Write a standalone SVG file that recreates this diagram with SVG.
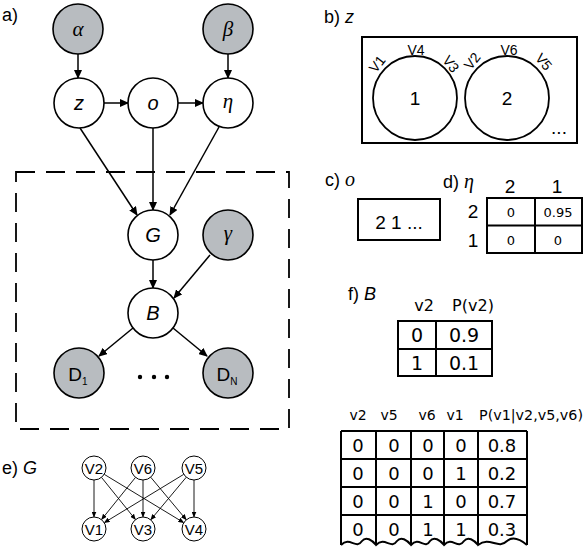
<svg xmlns="http://www.w3.org/2000/svg" width="584" height="550" viewBox="0 0 584 550">
<style>
.lbl{font-family:"Liberation Sans",Arial,sans-serif;font-size:18px;fill:#000}
.nd{fill:#fff;stroke:#000;stroke-width:1.6}
.obs{fill:#b8bcc0;stroke:#000;stroke-width:1.6}
.gk{font-family:"Liberation Serif","DejaVu Serif",serif;font-style:italic;font-size:21px;text-anchor:middle}
.it{font-family:"Liberation Sans",Arial,sans-serif;font-style:italic;font-size:20px;text-anchor:middle}
.rm{font-family:"Liberation Sans",Arial,sans-serif;font-size:19px;text-anchor:middle}
.edge{stroke:#000;stroke-width:1.5;fill:none;marker-end:url(#ah)}
.sedge{stroke:#000;stroke-width:0.9;fill:none;marker-end:url(#sah)}
.sn{fill:#fff;stroke:#000;stroke-width:1}
.sl{font-family:"Liberation Sans",Arial,sans-serif;font-size:15px;text-anchor:middle}
.box{fill:none;stroke:#000;stroke-width:2}
.tb{font-family:"DejaVu Sans",Verdana,sans-serif;text-anchor:middle}
</style>
<defs>
<marker id="ah" markerWidth="9" markerHeight="8" refX="8" refY="4" orient="auto" markerUnits="userSpaceOnUse">
<path d="M0,0 L9,4 L0,8 Z" fill="#000"/>
</marker>
<marker id="sah" markerWidth="6" markerHeight="5" refX="5.5" refY="2.5" orient="auto" markerUnits="userSpaceOnUse">
<path d="M0,0 L6,2.5 L0,5 Z" fill="#000"/>
</marker>
</defs>

<!-- panel labels -->
<text class="lbl" x="2" y="21">a)</text>
<text class="lbl" x="324" y="23">b) <tspan font-style="italic">z</tspan></text>
<text class="lbl" x="325" y="186">c) <tspan font-family="Liberation Serif,serif" font-style="italic" font-size="20">o</tspan></text>
<text class="lbl" x="443" y="188">d) <tspan font-family="Liberation Serif,serif" font-style="italic" font-size="20">η</tspan></text>
<text class="lbl" x="2" y="474" font-size="21">e) <tspan font-style="italic">G</tspan></text>
<text class="lbl" x="348" y="300">f) <tspan font-style="italic">B</tspan></text>

<!-- plate -->
<rect x="16" y="172" width="273" height="257" fill="none" stroke="#000" stroke-width="1.8" stroke-dasharray="19 11"/>

<!-- connectors -->
<g id="connectors">
<line class="edge" x1="78" y1="54" x2="78" y2="78"/>
<line class="edge" x1="228" y1="54" x2="228" y2="78"/>
<line class="edge" x1="104" y1="103" x2="128" y2="103"/>
<line class="edge" x1="178" y1="103" x2="203" y2="103"/>
<line class="edge" x1="80" y1="128" x2="137" y2="215"/>
<line class="edge" x1="153" y1="128" x2="153" y2="210"/>
<line class="edge" x1="219" y1="127" x2="170" y2="215"/>
<line class="edge" x1="153" y1="260" x2="153" y2="288"/>
<line class="edge" x1="210" y1="255" x2="174" y2="298"/>
<line class="edge" x1="133" y1="328" x2="99" y2="356"/>
<line class="edge" x1="173" y1="328" x2="207" y2="356"/>
</g>

<!-- main nodes -->
<g id="alpha"><circle class="obs" cx="78" cy="29" r="25"/><text class="gk" x="78" y="36">α</text></g>
<g id="beta"><circle class="obs" cx="228" cy="29" r="25"/><text class="gk" x="228" y="36">β</text></g>
<g id="z"><circle class="nd" cx="79" cy="103" r="25"/><text class="it" x="79" y="110">z</text></g>
<g id="o"><circle class="nd" cx="153" cy="103" r="25"/><text class="it" x="153" y="110">o</text></g>
<g id="eta"><circle class="nd" cx="228" cy="103" r="25"/><text class="gk" x="228" y="108">η</text></g>
<g id="G"><circle class="nd" cx="153" cy="235" r="25"/><text class="it" x="153" y="242">G</text></g>
<g id="gamma"><circle class="obs" cx="228" cy="235" r="25"/><text class="gk" x="228" y="240">γ</text></g>
<g id="B"><circle class="nd" cx="153" cy="313" r="25"/><text class="it" x="153" y="320">B</text></g>
<g id="D1"><circle class="obs" cx="79" cy="373" r="25"/><text class="rm" x="78" y="381" font-size="22">D<tspan font-size="10" dy="4">1</tspan></text></g>
<g id="DN"><circle class="obs" cx="228" cy="373" r="25"/><text class="rm" x="227" y="381" font-size="22">D<tspan font-size="10" dy="4">N</tspan></text></g>
<g id="dots" fill="#000"><circle cx="140" cy="377" r="2.2"/><circle cx="154" cy="377" r="2.2"/><circle cx="167" cy="377" r="2.2"/></g>

<!-- panel e -->
<g id="e-connectors">
<line class="sedge" x1="94" y1="480" x2="94" y2="517"/>
<line class="sedge" x1="101.5" y1="477.4" x2="135.5" y2="519.6"/>
<line class="sedge" x1="104.2" y1="474.3" x2="183.8" y2="522.7"/>
<line class="sedge" x1="135.5" y1="477.4" x2="101.5" y2="519.6"/>
<line class="sedge" x1="143" y1="480" x2="143" y2="517"/>
<line class="sedge" x1="150.7" y1="477.2" x2="186.3" y2="519.8"/>
<line class="sedge" x1="183.8" y1="474.3" x2="104.2" y2="522.7"/>
<line class="sedge" x1="186.3" y1="477.2" x2="150.7" y2="519.8"/>
<line class="sedge" x1="194" y1="480" x2="194" y2="517"/>
</g>
<g id="V2"><circle class="sn" cx="94" cy="468" r="12"/><text class="sl" x="94" y="473.5">V2</text></g>
<g id="V6"><circle class="sn" cx="143" cy="468" r="12"/><text class="sl" x="143" y="473.5">V6</text></g>
<g id="V5"><circle class="sn" cx="194" cy="468" r="12"/><text class="sl" x="194" y="473.5">V5</text></g>
<g id="V1"><circle class="sn" cx="94" cy="529" r="12"/><text class="sl" x="94" y="534.5">V1</text></g>
<g id="V3"><circle class="sn" cx="143" cy="529" r="12"/><text class="sl" x="143" y="534.5">V3</text></g>
<g id="V4"><circle class="sn" cx="194" cy="529" r="12"/><text class="sl" x="194" y="534.5">V4</text></g>

<!-- panel b -->
<g id="panel-b">
<rect class="box" x="362" y="37" width="215" height="106"/>
<circle cx="415" cy="98" r="42" fill="none" stroke="#000" stroke-width="1.8"/>
<circle cx="507" cy="98" r="42" fill="none" stroke="#000" stroke-width="1.8"/>
<text class="rm" x="415" y="105" font-size="20">1</text>
<text class="rm" x="507" y="105" font-size="20">2</text>
<g font-family="Liberation Sans,Arial,sans-serif" font-size="14" text-anchor="middle">
<text transform="translate(381,67) rotate(-52)">V1</text>
<text x="416" y="55">V4</text>
<text transform="translate(447,67) rotate(52)">V3</text>
<text transform="translate(476,64) rotate(-52)">V2</text>
<text x="509" y="55">V6</text>
<text transform="translate(540,65) rotate(50)">V5</text>
</g>
<text class="rm" x="559" y="134" font-size="15">...</text>
</g>

<!-- panel c -->
<g id="panel-c">
<rect class="box" x="358" y="199" width="82" height="41"/>
<text class="rm" x="399" y="229" font-size="19">2 1 ...</text>
</g>

<!-- panel d -->
<g id="panel-d">
<text class="rm" x="510" y="193" font-size="18">2</text>
<text class="rm" x="557" y="193" font-size="18">1</text>
<text class="rm" x="473" y="218" font-size="18">2</text>
<text class="rm" x="473" y="247" font-size="18">1</text>
<rect class="box" x="487" y="198" width="95" height="55"/>
<line x1="535" y1="198" x2="535" y2="253" stroke="#000" stroke-width="2"/>
<line x1="487" y1="225.5" x2="582" y2="225.5" stroke="#000" stroke-width="2"/>
<g class="tb" font-size="13">
<text x="511" y="217">0</text><text x="558" y="217">0.95</text>
<text x="511" y="245">0</text><text x="558" y="245">0</text>
</g>
</g>

<!-- panel f small table -->
<g id="panel-f1">
<g class="tb" font-size="16">
<text x="424" y="311">v2</text><text x="473" y="311">P(v2)</text>
</g>
<rect class="box" x="398" y="321" width="94" height="55"/>
<line x1="436" y1="321" x2="436" y2="376" stroke="#000" stroke-width="2"/>
<line x1="398" y1="349" x2="492" y2="349" stroke="#000" stroke-width="2"/>
<g class="tb" font-size="19">
<text x="417" y="342">0</text><text x="464" y="342">0.9</text>
<text x="417" y="370">1</text><text x="464" y="370">0.1</text>
</g>
</g>

<!-- panel f big table -->
<g id="panel-f2">
<g class="tb" font-size="14">
<text x="358" y="420">v2</text><text x="389" y="420">v5</text><text x="427" y="420">v6</text><text x="455" y="420">v1</text>
<text x="531" y="420" textLength="104" lengthAdjust="spacingAndGlyphs">P(v1|v2,v5,v6)</text>
</g>
<g stroke="#000" stroke-width="2" fill="none">
<line x1="341" y1="431" x2="527" y2="431"/>
<line x1="341" y1="459" x2="527" y2="459"/>
<line x1="341" y1="487" x2="527" y2="487"/>
<line x1="341" y1="515" x2="527" y2="515"/>
<path d="M341,431 V545 M376,431 V545 M411,431 V545 M444,431 V545 M478,431 V545 M527,431 V545"/>
<path d="M341,545 C350,536 356,550 362,541 C366,536 372,540 376,545 C385,536 391,550 397,541 C401,536 407,540 411,545 C419,536 425,550 430,541 C434,536 440,540 444,545 C452,536 458,550 464,541 C468,536 474,540 478,545 C490,536 498,550 507,541 C513,536 521,540 527,545"/>
</g>
<g class="tb" font-size="18">
<text x="358" y="452">0</text><text x="394" y="452">0</text><text x="428" y="452">0</text><text x="461" y="452">0</text><text x="502" y="452">0.8</text>
<text x="358" y="480">0</text><text x="394" y="480">0</text><text x="428" y="480">0</text><text x="461" y="480">1</text><text x="502" y="480">0.2</text>
<text x="358" y="508">0</text><text x="394" y="508">0</text><text x="428" y="508">1</text><text x="461" y="508">0</text><text x="502" y="508">0.7</text>
<text x="358" y="536">0</text><text x="394" y="536">0</text><text x="428" y="536">1</text><text x="461" y="536">1</text><text x="502" y="536">0.3</text>
</g>
</g>
</svg>
